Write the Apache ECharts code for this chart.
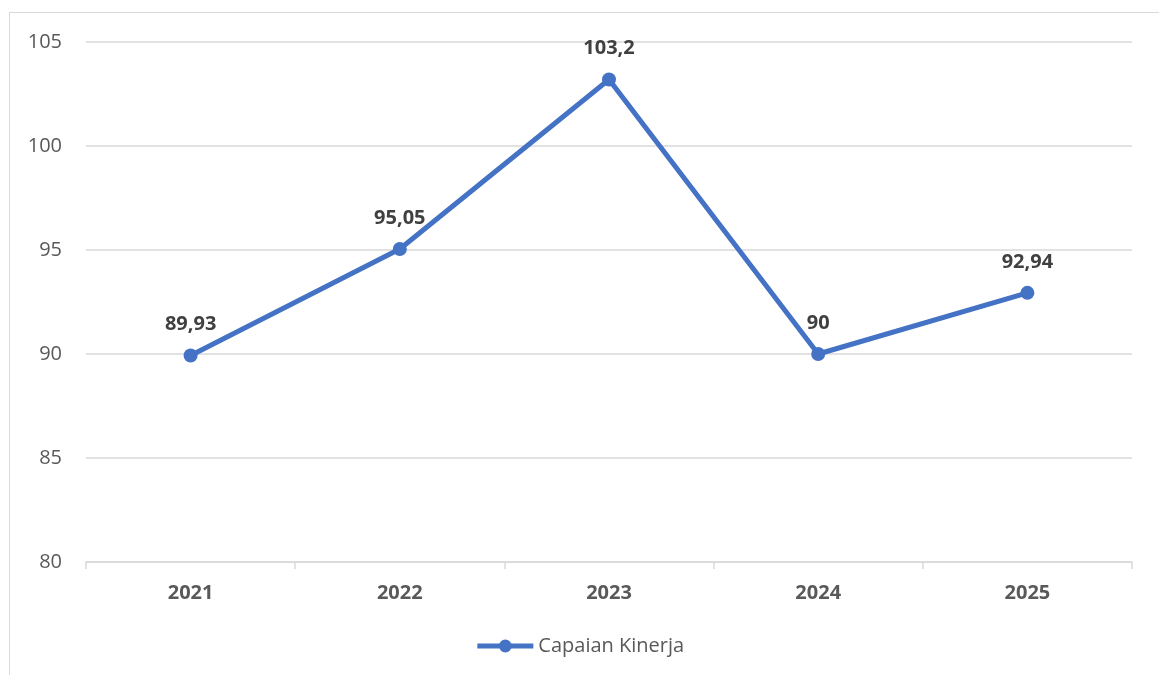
<!DOCTYPE html>
<html><head><meta charset="utf-8">
<script src="https://cdn.jsdelivr.net/npm/echarts@6/dist/echarts.min.js"></script>
<style>
html,body{margin:0;padding:0;background:#fff;}
#frame{position:absolute;left:9px;top:12px;width:1200px;height:700px;border:1.5px solid #d9d9d9;box-sizing:border-box;}
#c{position:absolute;left:0;top:0;width:1159px;height:675px;}
</style></head>
<body>
<div id="frame"></div>
<div id="c"></div>
<script>
var categories = ['2021','2022','2023','2024','2025'];
var values = [89.93, 95.05, 103.2, 90, 92.94];
var seriesName = 'Capaian Kinerja';
var yMin = 80, yMax = 105, yStep = 5;

var chart = echarts.init(document.getElementById('c'), null, {renderer:'canvas'});
var font = '"Open Sans", "Noto Sans", sans-serif';
chart.setOption({
  animation:false,
  backgroundColor:'transparent',
  grid:{left:86,right:27,top:42,bottom:113,containLabel:false},
  legend:{
    data:[seriesName], bottom:14, left:'center',
    itemWidth:56, itemHeight:16, itemGap:4,
    lineStyle:{width:5},
    textStyle:{fontFamily:font,fontSize:20,color:'#595959'}
  },
  xAxis:{
    type:'category', data:categories, boundaryGap:true,
    axisLine:{lineStyle:{color:'#d9d9d9',width:1.5}},
    axisTick:{show:true,length:7,lineStyle:{color:'#d9d9d9',width:1.5}},
    axisLabel:{fontFamily:font,fontSize:20,fontWeight:'bold',color:'#595959',margin:21}
  },
  yAxis:{
    type:'value', min:yMin, max:yMax, interval:yStep,
    axisLine:{show:false}, axisTick:{show:false},
    splitLine:{lineStyle:{color:'#d9d9d9',width:1.5}},
    axisLabel:{fontFamily:font,fontSize:20,color:'#595959',margin:24}
  },
  series:[{
    name:seriesName, type:'line', data:values,
    symbol:'circle', symbolSize:14,
    lineStyle:{color:'#4472C4',width:5},
    itemStyle:{color:'#4472C4'},
    label:{show:true,position:'top',distance:14,fontFamily:font,fontSize:20,fontWeight:'bold',color:'#404040',
      formatter:function(p){return String(p.value).replace('.',',');}}
  }]
});
</script>
</body></html>
